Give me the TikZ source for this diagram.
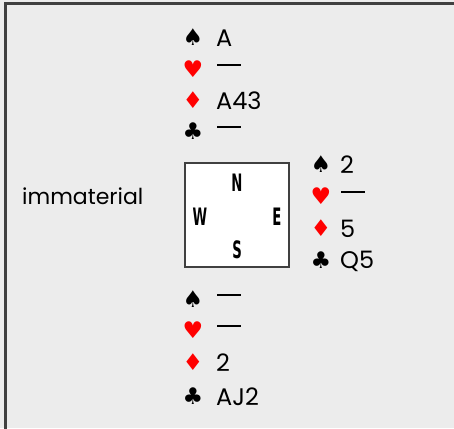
\documentclass[tikz,border=0pt]{standalone}
\usepackage{fontspec}
\usepackage{graphicx}
\setmainfont{Poppins}
\newfontfamily\symfont{DejaVu Sans}
\newfontfamily\compfont{DejaVu Sans}
\definecolor{bgray}{HTML}{ECECEC}
\definecolor{fgray}{HTML}{404040}
\definecolor{suitred}{HTML}{FF0000}
\newcommand{\nocard}{\rule[0.25em]{24pt}{2pt}}
\newcommand{\cmp}[1]{\scalebox{0.55}[1]{#1}}
\begin{document}
\begin{tikzpicture}[x=1pt,y=-1pt,
  suit/.style={inner sep=0pt,font=\symfont\fontsize{23}{23}\selectfont},
  redsuit/.style={suit,text=suitred},
  cards/.style={inner sep=0pt,anchor=west,font=\fontsize{24}{24}\selectfont},
  compass/.style={inner sep=0pt,font=\compfont\bfseries\fontsize{24}{24}\selectfont}]
\useasboundingbox (0,0) rectangle (454,428);
\fill[bgray] (0,0) rectangle (454,428);
\draw[fgray,line width=2.2pt] (5.5,440) -- (5.5,3.5) -- (460,3.5);
% North
\node[suit] (ns) at (193,37) {♠};
\node[cards] (nst) at (216,38) {A};
\node[redsuit] (nh) at (193,69) {♥};
\node[cards] (nht) at (217,68) {\nocard};
\node[redsuit] (nd) at (193,100) {♦};
\node[cards] (ndt) at (216,101) {A43};
\node[suit] (nc) at (193,131) {♣};
\node[cards] (nct) at (217,130) {\nocard};
% compass box
\node[draw=fgray,fill=white,line width=1.2pt,minimum width=104pt,minimum height=104pt,inner sep=0pt] (box) at (237,215) {};
\node[compass] (cn) at (237,183) {\cmp{N}};
\node[compass] (cw) at (200,217) {\cmp{W}};
\node[compass] (ce) at (277,217) {\cmp{E}};
\node[compass] (cs) at (237,250) {\cmp{S}};
% West
\node[cards,font=\fontsize{22}{22}\selectfont] (west) at (22,196) {immaterial};
% East
\node[suit] (es) at (321,164) {♠};
\node[cards] (est) at (340,165) {2};
\node[redsuit] (eh) at (321,196) {♥};
\node[cards] (eht) at (341,195) {\nocard};
\node[redsuit] (ed) at (321,228) {♦};
\node[cards] (edt) at (340,229) {5};
\node[suit] (ec) at (321,260) {♣};
\node[cards] (ect) at (340,261) {Q5};
% South
\node[suit] (ss) at (193,299) {♠};
\node[cards] (sst) at (217,298) {\nocard};
\node[redsuit] (sh) at (193,330) {♥};
\node[cards] (sht) at (217,329) {\nocard};
\node[redsuit] (sd) at (193,362) {♦};
\node[cards] (sdt) at (216,363) {2};
\node[suit] (sc) at (193,396) {♣};
\node[cards] (sct) at (216,397) {AJ2};
\end{tikzpicture}
\end{document}
